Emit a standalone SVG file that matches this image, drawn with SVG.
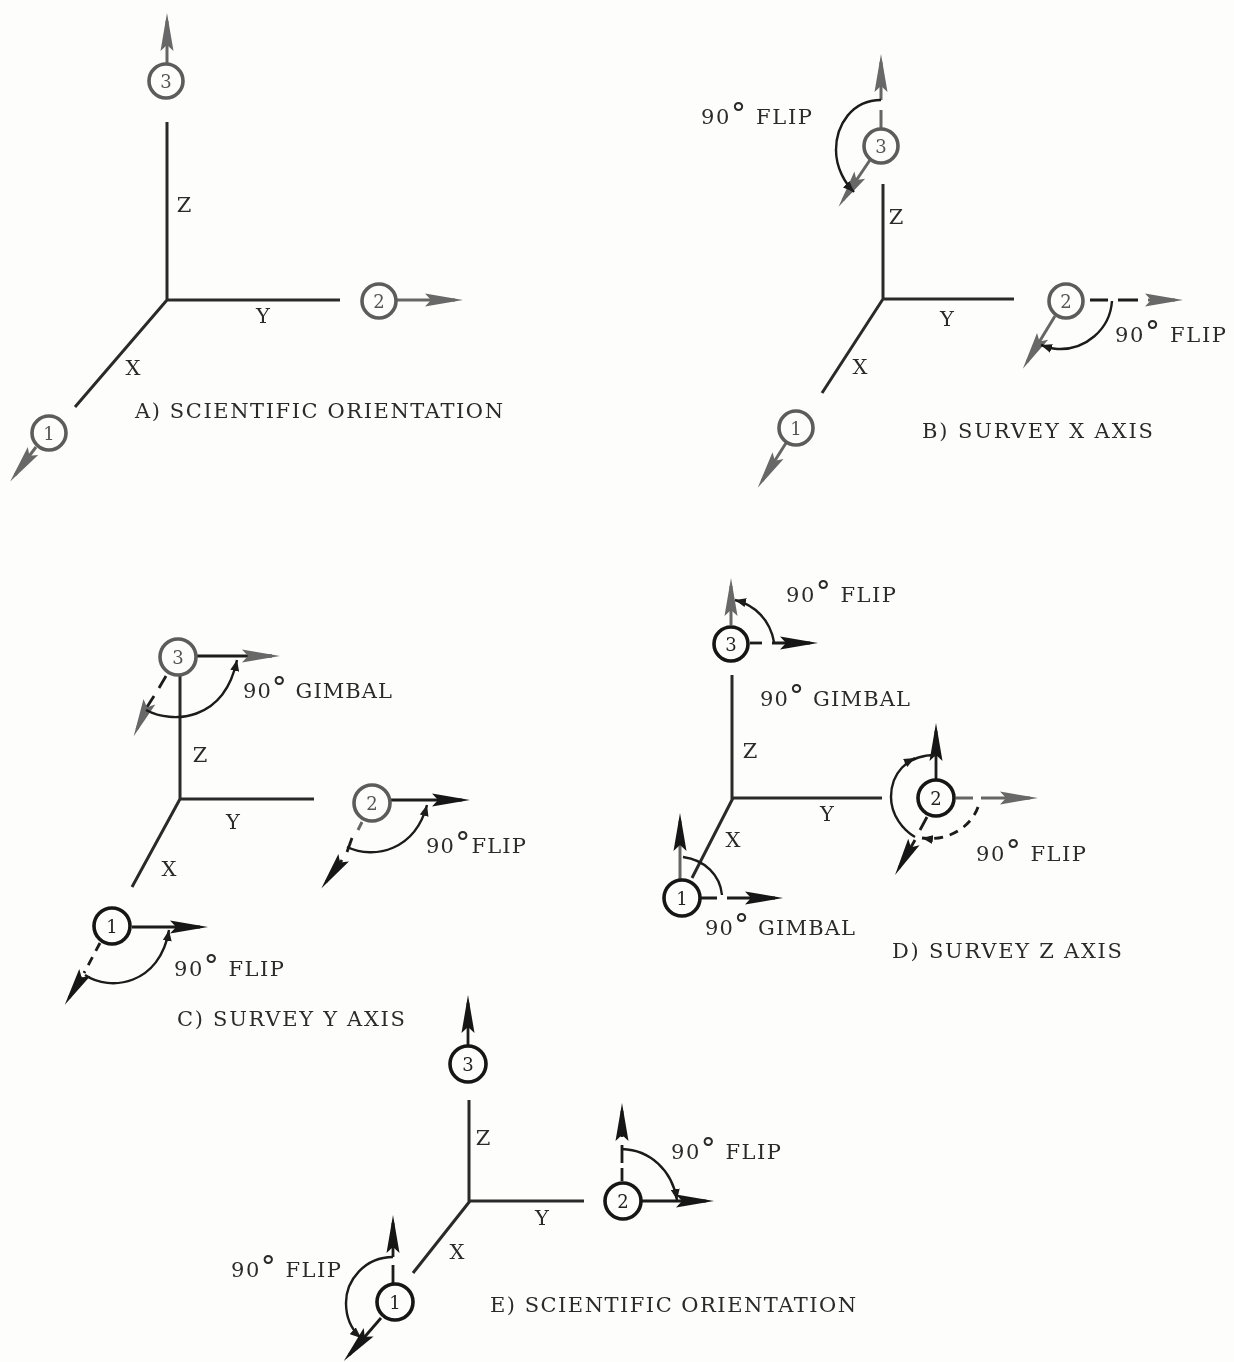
<svg xmlns="http://www.w3.org/2000/svg" width="1234" height="1362" viewBox="0 0 1234 1362">
<style>
.bg{fill:#fdfdfb}
.ax,.k,.g,.ar,.kd,.gd{fill:none;stroke-linecap:butt}
.ax{stroke:#2a2a2a;stroke-width:3}
.k{stroke:#1a1a1a;stroke-width:2.8}
.g{stroke:#666;stroke-width:3}
.ar{stroke:#1a1a1a;stroke-width:2.4}
.dk{stroke:#1a1a1a;stroke-width:2.8;fill:none;stroke-dasharray:9 7}
.n circle{fill:#fdfdfb;stroke-width:3.6;stroke:#151515}
.n.gr circle{stroke:#5c5c5c}
.n text{font:18px "DejaVu Serif",serif;text-anchor:middle;fill:#222}
.n.gr text{fill:#555}
.t{font-family:"DejaVu Serif",serif;fill:#2a2a2a;font-size:21px}
.a{font-family:"DejaVu Serif",serif;fill:#2a2a2a;font-size:21px;text-anchor:middle}
.d{font-size:30px}
</style>
<defs>
<filter id="soft" filterUnits="userSpaceOnUse" x="0" y="0" width="1234" height="1362"><feGaussianBlur stdDeviation="0.5"/></filter>
<marker id="hk" viewBox="0 -7 40 14" markerWidth="40" markerHeight="14" refX="32" refY="0" orient="auto" markerUnits="userSpaceOnUse"><path d="M2,-6.5 L40,0 L2,6.5 L8,0Z" fill="#151515"/></marker>
<marker id="hg" viewBox="0 -7 40 14" markerWidth="40" markerHeight="14" refX="32" refY="0" orient="auto" markerUnits="userSpaceOnUse"><path d="M2,-6.5 L40,0 L2,6.5 L8,0Z" fill="#686868"/></marker>
<marker id="sm" viewBox="0 -4.5 11 9" markerWidth="11" markerHeight="9" refX="11" refY="0" orient="auto" markerUnits="userSpaceOnUse"><path d="M0,-4.5 L11,0 L0,4.5Z" fill="#1a1a1a"/></marker>
</defs>
<rect class="bg" width="1234" height="1362"/>
<g filter="url(#soft)">
<g id="connectors">
<!-- A -->
<path class="ax" d="M167,122V300H340M167,300L75,407"/>
<path class="g" d="M167,63V21" marker-end="url(#hg)"/>
<path class="g" d="M397,300H455" marker-end="url(#hg)"/>
<path class="g" d="M36,447L15,475" marker-end="url(#hg)"/>
<!-- B -->
<path class="ax" d="M883,184V299H1014M883,299L822,393"/>
<path class="g" d="M881,128V110M881,100V62" marker-end="url(#hg)"/>
<path class="g" d="M870,160L843,200" marker-end="url(#hg)"/>
<path class="ar" d="M881,100C852,100 836,125 836,150C836,168 845,183 854,192" marker-end="url(#sm)"/>
<path class="g" d="M1055,316L1027,362" marker-end="url(#hg)"/>
<path class="k" d="M1090,300H1108M1118,300H1138"/>
<path class="g" d="M1148,300H1175" marker-end="url(#hg)"/>
<path class="ar" d="M1112,301C1110,330 1085,350 1058,349C1052,349 1047,347 1041,345" marker-end="url(#sm)"/>
<path class="g" d="M786,443L762,481" marker-end="url(#hg)"/>
<!-- C -->
<path class="ax" d="M180,674V799H314M180,799L132,887"/>
<path class="k" d="M195,656H272" marker-end="url(#hg)"/>
<path class="k" d="M166,676L159,688M154,696L147,707"/>
<path class="g" d="M147,707L137,729" marker-end="url(#hg)"/>
<path class="ar" d="M146,710C172,724 224,722 237,660" marker-end="url(#sm)"/>
<path class="k" d="M390,800H462" marker-end="url(#hk)"/>
<path class="g" d="M362,822L358,830"/>
<path class="k" d="M352,838L347,852"/>
<path class="k" d="M342,860L326,882" marker-end="url(#hk)"/>
<path class="ar" d="M347,847C375,860 415,850 427,805" marker-end="url(#sm)"/>
<path class="k" d="M132,927H200" marker-end="url(#hk)"/>
<path class="dk" d="M100,943L84,973"/>
<path class="k" d="M82,977L69,998" marker-end="url(#hk)"/>
<path class="ar" d="M85,975C110,992 160,985 169,930" marker-end="url(#sm)"/>
<!-- D -->
<path class="ax" d="M732,675V798H882M733,798L692,878"/>
<path class="g" d="M731,625V586" marker-end="url(#hg)"/>
<path class="k" d="M750,643H762"/>
<path class="k" d="M772,643H810" marker-end="url(#hk)"/>
<path class="ar" d="M774,642C770,620 755,605 735,600" marker-end="url(#sm)"/>
<path class="k" d="M936,780V731" marker-end="url(#hk)"/>
<path class="ar" d="M936,755C905,755 891,775 891,797C891,815 903,830 915,837"/>
<path class="ar" d="M905,763L915,758" marker-end="url(#sm)"/>
<path class="g" d="M956,798H973M981,798H1030" marker-end="url(#hg)"/>
<path class="dk" d="M978,807C972,825 950,842 922,838" marker-end="url(#sm)"/>
<path class="k" d="M927,817L920,830M915,840L899,868" marker-end="url(#hk)"/>
<path class="g" d="M680,880V821" marker-end="url(#hk)"/>
<path class="k" d="M700,898H717M727,898H775" marker-end="url(#hk)"/>
<path class="ar" d="M722,895C720,875 705,860 683,857"/>
<!-- E -->
<path class="ax" d="M469,1100V1201H584M470,1201L413,1273"/>
<path class="k" d="M468,1045V1003" marker-end="url(#hk)"/>
<path class="k" d="M642,1201H706" marker-end="url(#hk)"/>
<path class="k" d="M622,1181V1168M622,1163V1145M622,1137V1111" marker-end="url(#hk)"/>
<path class="ar" d="M622,1149C650,1150 672,1170 677,1200" marker-end="url(#sm)"/>
<path class="k" d="M393,1283V1265M393,1257V1223" marker-end="url(#hk)"/>
<path class="ar" d="M393,1257C365,1257 346,1280 346,1303C346,1318 352,1330 361,1338" marker-end="url(#sm)"/>
<path class="k" d="M381,1318L349,1355" marker-end="url(#hk)"/>
</g>
<g id="node-a3" class="n gr"><circle cx="166" cy="81" r="17"/><text x="166" y="88">3</text></g>
<g id="node-a2" class="n gr"><circle cx="379" cy="301" r="17"/><text x="379" y="308">2</text></g>
<g id="node-a1" class="n gr"><circle cx="49" cy="433" r="17"/><text x="49" y="440">1</text></g>
<g id="node-b3" class="n gr"><circle cx="881" cy="146" r="17"/><text x="881" y="153">3</text></g>
<g id="node-b2" class="n gr"><circle cx="1066" cy="301" r="17"/><text x="1066" y="308">2</text></g>
<g id="node-b1" class="n gr"><circle cx="796" cy="428" r="17"/><text x="796" y="435">1</text></g>
<g id="node-c3" class="n gr"><circle cx="178" cy="657" r="18"/><text x="178" y="664">3</text></g>
<g id="node-c2" class="n gr"><circle cx="372" cy="803" r="18"/><text x="372" y="810">2</text></g>
<g id="node-c1" class="n"><circle cx="112" cy="926" r="18"/><text x="112" y="933">1</text></g>
<g id="node-d3" class="n"><circle cx="731" cy="644" r="17"/><text x="731" y="651">3</text></g>
<g id="node-d2" class="n"><circle cx="936" cy="798" r="18"/><text x="936" y="805">2</text></g>
<g id="node-d1" class="n"><circle cx="682" cy="898" r="18"/><text x="682" y="905">1</text></g>
<g id="node-e3" class="n"><circle cx="468" cy="1064" r="18"/><text x="468" y="1071">3</text></g>
<g id="node-e2" class="n"><circle cx="623" cy="1201" r="18"/><text x="623" y="1208">2</text></g>
<g id="node-e1" class="n"><circle cx="395" cy="1302" r="18"/><text x="395" y="1309">1</text></g>
<g id="labels">
<text class="a" x="184" y="212">Z</text><text class="a" x="263" y="323">Y</text><text class="a" x="133" y="375">X</text>
<text class="t" x="135" y="418" textLength="368">A) SCIENTIFIC ORIENTATION</text>
<text class="a" x="896" y="224">Z</text><text class="a" x="947" y="326">Y</text><text class="a" x="860" y="374">X</text>
<text class="t" x="701" y="124" textLength="111">90<tspan class="d">°</tspan> FLIP</text>
<text class="t" x="1115" y="342" textLength="111">90<tspan class="d">°</tspan> FLIP</text>
<text class="t" x="922" y="438" textLength="231">B) SURVEY X AXIS</text>
<text class="a" x="200" y="762">Z</text><text class="a" x="233" y="829">Y</text><text class="a" x="169" y="876">X</text>
<text class="t" x="243" y="698" textLength="149">90<tspan class="d">°</tspan> GIMBAL</text>
<text class="t" x="426" y="853" textLength="100">90<tspan class="d">°</tspan>FLIP</text>
<text class="t" x="174" y="976" textLength="110">90<tspan class="d">°</tspan> FLIP</text>
<text class="t" x="177" y="1026" textLength="228">C) SURVEY Y AXIS</text>
<text class="a" x="750" y="758">Z</text><text class="a" x="827" y="821">Y</text><text class="a" x="733" y="847">X</text>
<text class="t" x="786" y="602" textLength="110">90<tspan class="d">°</tspan> FLIP</text>
<text class="t" x="760" y="706" textLength="150">90<tspan class="d">°</tspan> GIMBAL</text>
<text class="t" x="705" y="935" textLength="150">90<tspan class="d">°</tspan> GIMBAL</text>
<text class="t" x="976" y="861" textLength="110">90<tspan class="d">°</tspan> FLIP</text>
<text class="t" x="892" y="958" textLength="230">D) SURVEY Z AXIS</text>
<text class="a" x="483" y="1145">Z</text><text class="a" x="542" y="1225">Y</text><text class="a" x="457" y="1259">X</text>
<text class="t" x="671" y="1159" textLength="110">90<tspan class="d">°</tspan> FLIP</text>
<text class="t" x="231" y="1277" textLength="110">90<tspan class="d">°</tspan> FLIP</text>
<text class="t" x="490" y="1312" textLength="366">E) SCIENTIFIC ORIENTATION</text>
</g>
</g>
</svg>
